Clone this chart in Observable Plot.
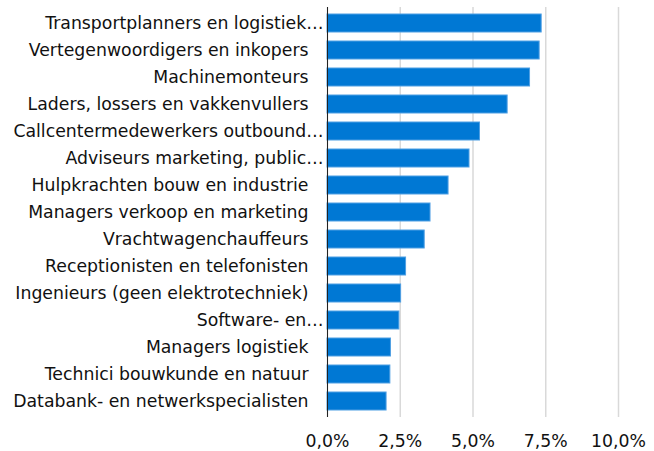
<!DOCTYPE html>
<html>
<head>
<meta charset="utf-8">
<script src="https://cdn.jsdelivr.net/npm/d3@7"></script>
<script src="https://cdn.jsdelivr.net/npm/@observablehq/plot@0.6"></script>
<style>
  html, body { margin: 0; padding: 0; background: #fff; }
</style>
</head>
<body>
<div id="chart"></div>
<script>
const categories = [
  "Transportplanners en logistiek…",
  "Vertegenwoordigers en inkopers",
  "Machinemonteurs",
  "Laders, lossers en vakkenvullers",
  "Callcentermedewerkers outbound…",
  "Adviseurs marketing, public…",
  "Hulpkrachten bouw en industrie",
  "Managers verkoop en marketing",
  "Vrachtwagenchauffeurs",
  "Receptionisten en telefonisten",
  "Ingenieurs (geen elektrotechniek)",
  "Software- en…",
  "Managers logistiek",
  "Technici bouwkunde en natuur",
  "Databank- en netwerkspecialisten"
];
const values = [0.0736, 0.0729, 0.0696, 0.0619, 0.0524, 0.0488, 0.0416, 0.0354, 0.0334, 0.0270, 0.0253, 0.0247, 0.0218, 0.0216, 0.0203];
const xTicks = [0, 0.025, 0.05, 0.075, 0.10];

const data = categories.map((c, i) => ({cat: c, value: values[i]}));
const truncated = categories.filter(c => c.endsWith("…"));
const full = categories.filter(c => !c.endsWith("…"));
const fmt = d => (d * 100).toFixed(1).replace(".", ",") + "%";

const chart = Plot.plot({
  width: 654,
  height: 451,
  marginLeft: 327,
  marginRight: 36,
  marginTop: 7,
  marginBottom: 34,
  style: {fontFamily: "DejaVu Sans", fontSize: "17.3px", color: "#111", background: "#fff"},
  x: {domain: [0, 0.10], label: null},
  y: {domain: categories, paddingInner: 0.34, paddingOuter: 0.17, label: null},
  marks: [
    Plot.gridX(xTicks, {stroke: "#d9d9d9", strokeOpacity: 1, strokeWidth: 1.5}),
    Plot.barX(data, {x: "value", y: "cat", fill: "#0078d4", stroke: "#4f9fe3", strokeWidth: 1}),
    Plot.ruleX([0], {stroke: "#222", strokeWidth: 1}),
    Plot.axisX(xTicks, {tickSize: 0, tickPadding: 17, tickFormat: fmt, fontSize: 17.3, label: null}),
    Plot.axisY(full, {tickSize: 0, tickPadding: 19, fontSize: 17.3, label: null}),
    Plot.axisY(truncated, {tickSize: 0, tickPadding: 4, fontSize: 17.3, label: null})
  ]
});
document.getElementById("chart").appendChild(chart);
</script>
</body>
</html>
